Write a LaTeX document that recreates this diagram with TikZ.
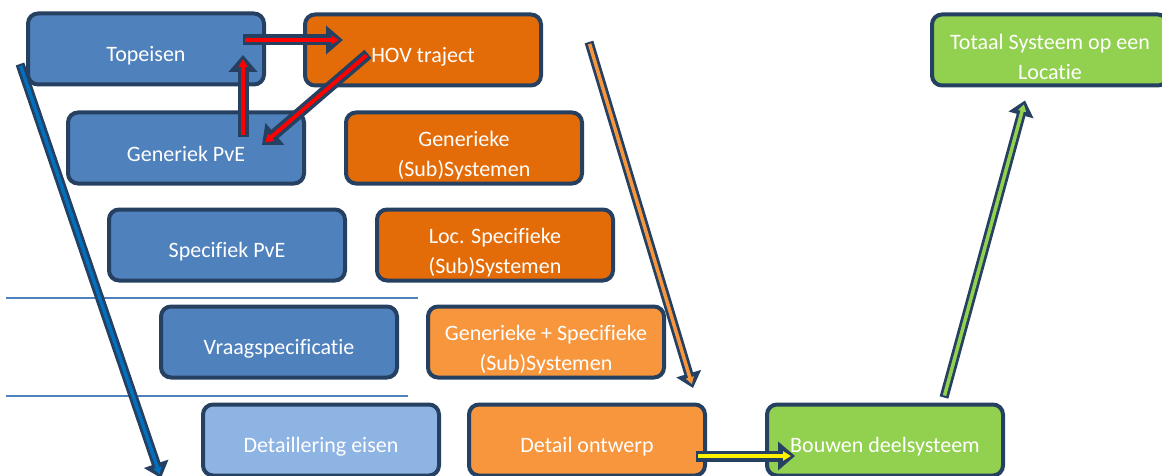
\documentclass[tikz,border=0pt]{standalone}
\usepackage{fontspec}
\setmainfont{Carlito}[Ligatures=NoCommon]
\usetikzlibrary{calc,arrows.meta}
\definecolor{boxline}{RGB}{37,64,97}
\definecolor{reqblue}{RGB}{79,129,189}
\definecolor{detblue}{RGB}{142,180,227}
\definecolor{sysorange}{RGB}{227,108,9}
\definecolor{lightorange}{RGB}{247,150,60}
\definecolor{buildgreen}{RGB}{146,208,80}
\definecolor{flowblue}{RGB}{0,112,192}

\begin{document}
\begin{tikzpicture}[x=1pt, y=-1pt,
  box/.style={draw=boxline, line width=4pt, rounded corners=10pt,
    minimum width=236pt, minimum height=71pt, inner sep=2pt,
    execute at begin node={\rule{0pt}{#1}},
    text=white, align=center, font=\fontsize{22}{30}\selectfont},
  box/.default=28pt,
  flow/.style={draw=boxline, line width=9pt, -{Triangle[length=15pt,width=25pt]},
    postaction={draw=#1, line width=3.5pt, shorten <=2pt, shorten >=4pt,
      -{Triangle[length=7pt,width=8pt]}}},
  bigflow/.style={draw=boxline, line width=11pt, -{Triangle[length=17pt,width=28pt]},
    postaction={draw=#1, line width=4pt, shorten <=2pt, shorten >=4pt,
      -{Triangle[length=8pt,width=9pt]}}},
  sepline/.style={draw=reqblue, line width=1.5pt}]
  \useasboundingbox (0,0) rectangle (1162,476);

  % requirements (left leg)
  \node[box, fill=reqblue] (top) at (146,49) {Topeisen};
  \node[box, fill=reqblue] (gen) at (186,148) {Generiek PvE};
  \node[box, fill=reqblue] (spec) at (227,245) {Specifiek PvE};
  \node[box, fill=reqblue] (vraag) at (279,342) {Vraagspecificatie};
  \node[box, fill=detblue] (deta) at (321,440) {Detaillering eisen};

  % systems
  \node[box, fill=sysorange] (hov) at (423,50) {HOV traject};
  \node[box=60pt, fill=sysorange] (gsub) at (464,148) {Generieke\\(Sub)Systemen};
  \node[box=60pt, fill=sysorange] (lsub) at (495,245) {Loc. Specifieke\\(Sub)Systemen};
  \node[box=60pt, fill=lightorange] (gss) at (546,342) {Generieke + Specifieke\\(Sub)Systemen};
  \node[box, fill=lightorange] (dont) at (587,440) {Detail ontwerp};

  % realisation (right leg)
  \node[box, fill=buildgreen] (bouw) at (885,440) {Bouwen deelsysteem};
  \node[box=60pt, fill=buildgreen] (tot) at (1050,50) {Totaal Systeem op een\\Locatie};

  \draw[sepline] (6,298) -- (418,298);
  \draw[sepline] (6,396) -- (408,396);

  \coordinate (b1) at (20,64);
  \coordinate (b2) at (161,478);
  \coordinate (o1) at (589,42);
  \coordinate (o2) at (693,388);

  \draw[flow=flowblue] (b1) -- (b2);
  \draw[flow=lightorange] (o1) -- (o2);
  \draw[flow=buildgreen] ($(bouw.north)+(59,-5)$) -- ($(tot.south)+(-25,13)$);

  \draw[bigflow=red] ($(top.center)+(97,-9)$) -- ($(hov.west)+(40,-10)$);
  \draw[bigflow=red] ($(gen.center)+(57,-11)$) -- ($(top.center)+(97,6)$);
  \draw[bigflow=red] ($(hov.center)+(-55,4)$) -- ($(gen.center)+(76,-3)$);
  \draw[bigflow=yellow] ($(dont.center)+(109,16)$) -- ($(bouw.west)+(30,16)$);
\end{tikzpicture}
\end{document}
